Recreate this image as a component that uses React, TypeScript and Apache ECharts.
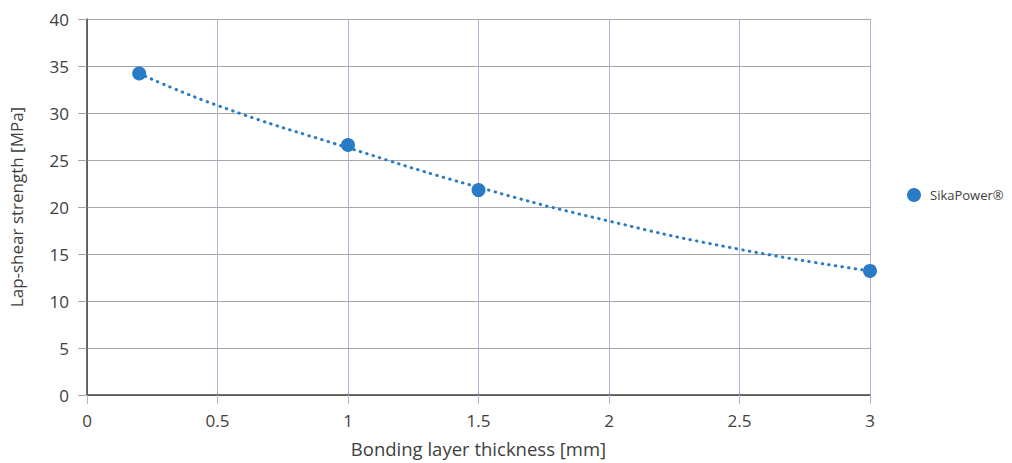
import React, { useEffect, useRef } from "react";
import * as echarts from "echarts";

const seriesName = "SikaPower®";
const thicknessMm = [0.2, 1, 1.5, 3];
const strengthMPa = [34.2, 26.6, 21.8, 13.2];
const trendX = [0.2, 0.5, 1, 1.5, 2, 2.5, 3];
const trendY = [34.2, 30.8, 26.3, 22.1, 18.5, 15.5, 13.2];

const FONT = "'Open Sans', sans-serif";
const BLUE = "#2a7bc6";

export default function App() {
  const ref = useRef<HTMLDivElement>(null);
  useEffect(() => {
    if (!ref.current) return;
    const chart = echarts.init(ref.current, null, { renderer: "svg" });
    chart.setOption({
      animation: false,
      textStyle: { fontFamily: FONT },
      grid: { left: 86, right: 142, top: 19, bottom: 68 },
      legend: {
        left: 902,
        top: 183,
        orient: "vertical",
        data: [{ name: seriesName, icon: "circle" }],
        itemWidth: 14,
        itemHeight: 14,
        itemGap: 6,
        textStyle: { fontFamily: FONT, fontSize: 13, color: "#404040", padding: [0, 0, 0, 4] },
      },
      xAxis: {
        type: "value",
        min: 0,
        max: 3,
        interval: 0.5,
        name: "Bonding layer thickness [mm]",
        nameLocation: "middle",
        nameGap: 44,
        nameTextStyle: { fontFamily: FONT, fontSize: 18.5, color: "#404040" },
        axisLine: { show: true, onZero: false, lineStyle: { color: "#404040", width: 1.5 } },
        axisTick: { show: true, length: 9, lineStyle: { color: "#b3b3d6" } },
        axisLabel: { fontFamily: FONT, fontSize: 17, color: "#404040", margin: 17 },
        splitLine: { show: true, lineStyle: { color: "#b3b3d6", width: 1 } },
      },
      yAxis: {
        type: "value",
        min: 0,
        max: 40,
        interval: 5,
        name: "Lap-shear strength [MPa]",
        nameLocation: "middle",
        nameGap: 62,
        nameTextStyle: { fontFamily: FONT, fontSize: 17, color: "#404040" },
        axisLine: { show: true, lineStyle: { color: "#404040", width: 1.5 } },
        axisTick: { show: true, length: 9, lineStyle: { color: "#a6a6a6" } },
        axisLabel: { fontFamily: FONT, fontSize: 17, color: "#404040", margin: 18 },
        splitLine: { show: true, lineStyle: { color: "#a6a6a6", width: 1.2 } },
      },
      series: [
        {
          name: "trend",
          type: "line",
          smooth: true,
          symbol: "none",
          silent: true,
          data: trendX.map((x, i) => [x, trendY[i]]),
          lineStyle: { color: BLUE, width: 3, type: [0.5, 6.2], cap: "round" },
          z: 2,
        },
        {
          name: seriesName,
          type: "scatter",
          symbolSize: 14,
          itemStyle: { color: BLUE, opacity: 1 },
          data: thicknessMm.map((x, i) => [x, strengthMPa[i]]),
          z: 3,
        },
      ],
    });
    return () => chart.dispose();
  }, []);
  return <div ref={ref} style={{ width: 1012, height: 463, position: "absolute", left: 0, top: 0 }} />;
}
